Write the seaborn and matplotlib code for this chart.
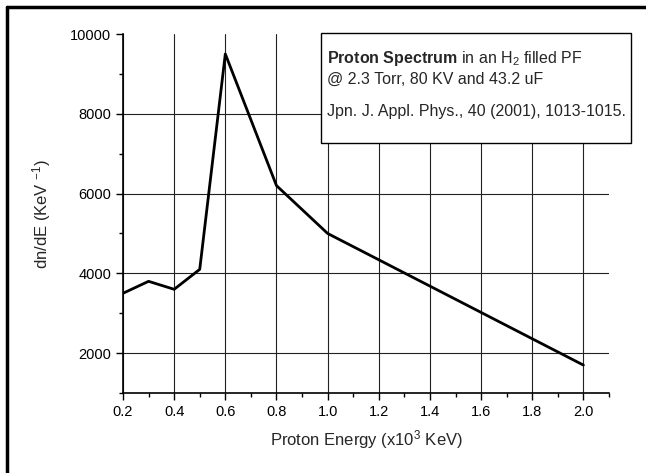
import seaborn as sns
import matplotlib.pyplot as plt
from matplotlib.patches import Rectangle
from matplotlib.lines import Line2D
from matplotlib.ticker import MultipleLocator
import pandas as pd

# proton spectrum
energy = [0.2, 0.3, 0.4, 0.5, 0.6, 0.8, 1.0, 2.0]
dn_de = [3500, 3800, 3600, 4100, 9500, 6200, 5000, 1700]
x_ticks = [0.2, 0.4, 0.6, 0.8, 1.0, 1.2, 1.4, 1.6, 1.8, 2.0]
y_ticks = [2000, 4000, 6000, 8000, 10000]

sns.set_style("white")
plt.rcParams['font.family'] = ['Liberation Sans', 'DejaVu Sans']
plt.rcParams['mathtext.fontset'] = 'custom'
plt.rcParams['mathtext.rm'] = 'Liberation Sans'
plt.rcParams['mathtext.it'] = 'Liberation Sans:italic'
plt.rcParams['mathtext.bf'] = 'Liberation Sans:bold'

df = pd.DataFrame({"energy": energy, "dnde": dn_de})

fig = plt.figure(figsize=(6.46, 4.73), dpi=100)
ax = fig.add_axes([0.1904, 0.1691, 0.7523, 0.7590])

sns.lineplot(data=df, x="energy", y="dnde", color="black", linewidth=2, ax=ax)

ax.set_xlim(0.2, 2.1)
ax.set_ylim(1000, 10000)
ax.set_xticks(x_ticks)
ax.set_yticks(y_ticks)
ax.xaxis.set_minor_locator(MultipleLocator(0.1))
ax.yaxis.set_minor_locator(MultipleLocator(1000))
ax.set_xticklabels([f"{v:.1f}" for v in x_ticks])

for s in ["top", "right"]:
    ax.spines[s].set_visible(False)
for s in ["left", "bottom"]:
    ax.spines[s].set_color("black")
    ax.spines[s].set_linewidth(1.2)

ax.tick_params(which="major", direction="out", length=5, width=1, colors="black",
               labelsize=10.5, left=True, bottom=True)
ax.tick_params(which="minor", direction="out", length=3, width=1, colors="black",
               left=True, bottom=True)

ax.grid(True, which="major", color="#222222", linewidth=0.8)
ax.yaxis.get_gridlines()[-1].set_visible(False)
ax.set_axisbelow(True)

ax.set_xlabel("Proton Energy (x10$^3$ KeV)", fontsize=12, labelpad=7)
ax.set_ylabel("dn/dE (KeV $^{-1}$)", fontsize=12, labelpad=12)

# annotation box sits partly outside the axes
fig.patches.append(Rectangle((0.497, 0.698), 0.480, 0.2326, transform=fig.transFigure,
                             facecolor="white", edgecolor="black", linewidth=1, zorder=5))
fig.text(0.506, 0.8668, r"$\bf{Proton\ Spectrum}$ in an H$_2$ filled PF", fontsize=11.5,
         va="baseline", zorder=6)
fig.text(0.506, 0.8224, "@ 2.3 Torr, 80 KV and 43.2 uF", fontsize=11.5, va="baseline", zorder=6)
fig.text(0.506, 0.7548, "Jpn. J. Appl. Phys., 40 (2001), 1013-1015.", fontsize=11.5,
         va="baseline", zorder=6)

# outer frame (only top and left edges show in the crop)
fig.lines.append(Line2D([0.011, 0.011], [0, 0.985], transform=fig.transFigure, color="black", linewidth=2.5))
fig.lines.append(Line2D([0.011, 1], [0.985, 0.985], transform=fig.transFigure, color="black", linewidth=2.5))

fig.savefig("out.png", dpi=100)
